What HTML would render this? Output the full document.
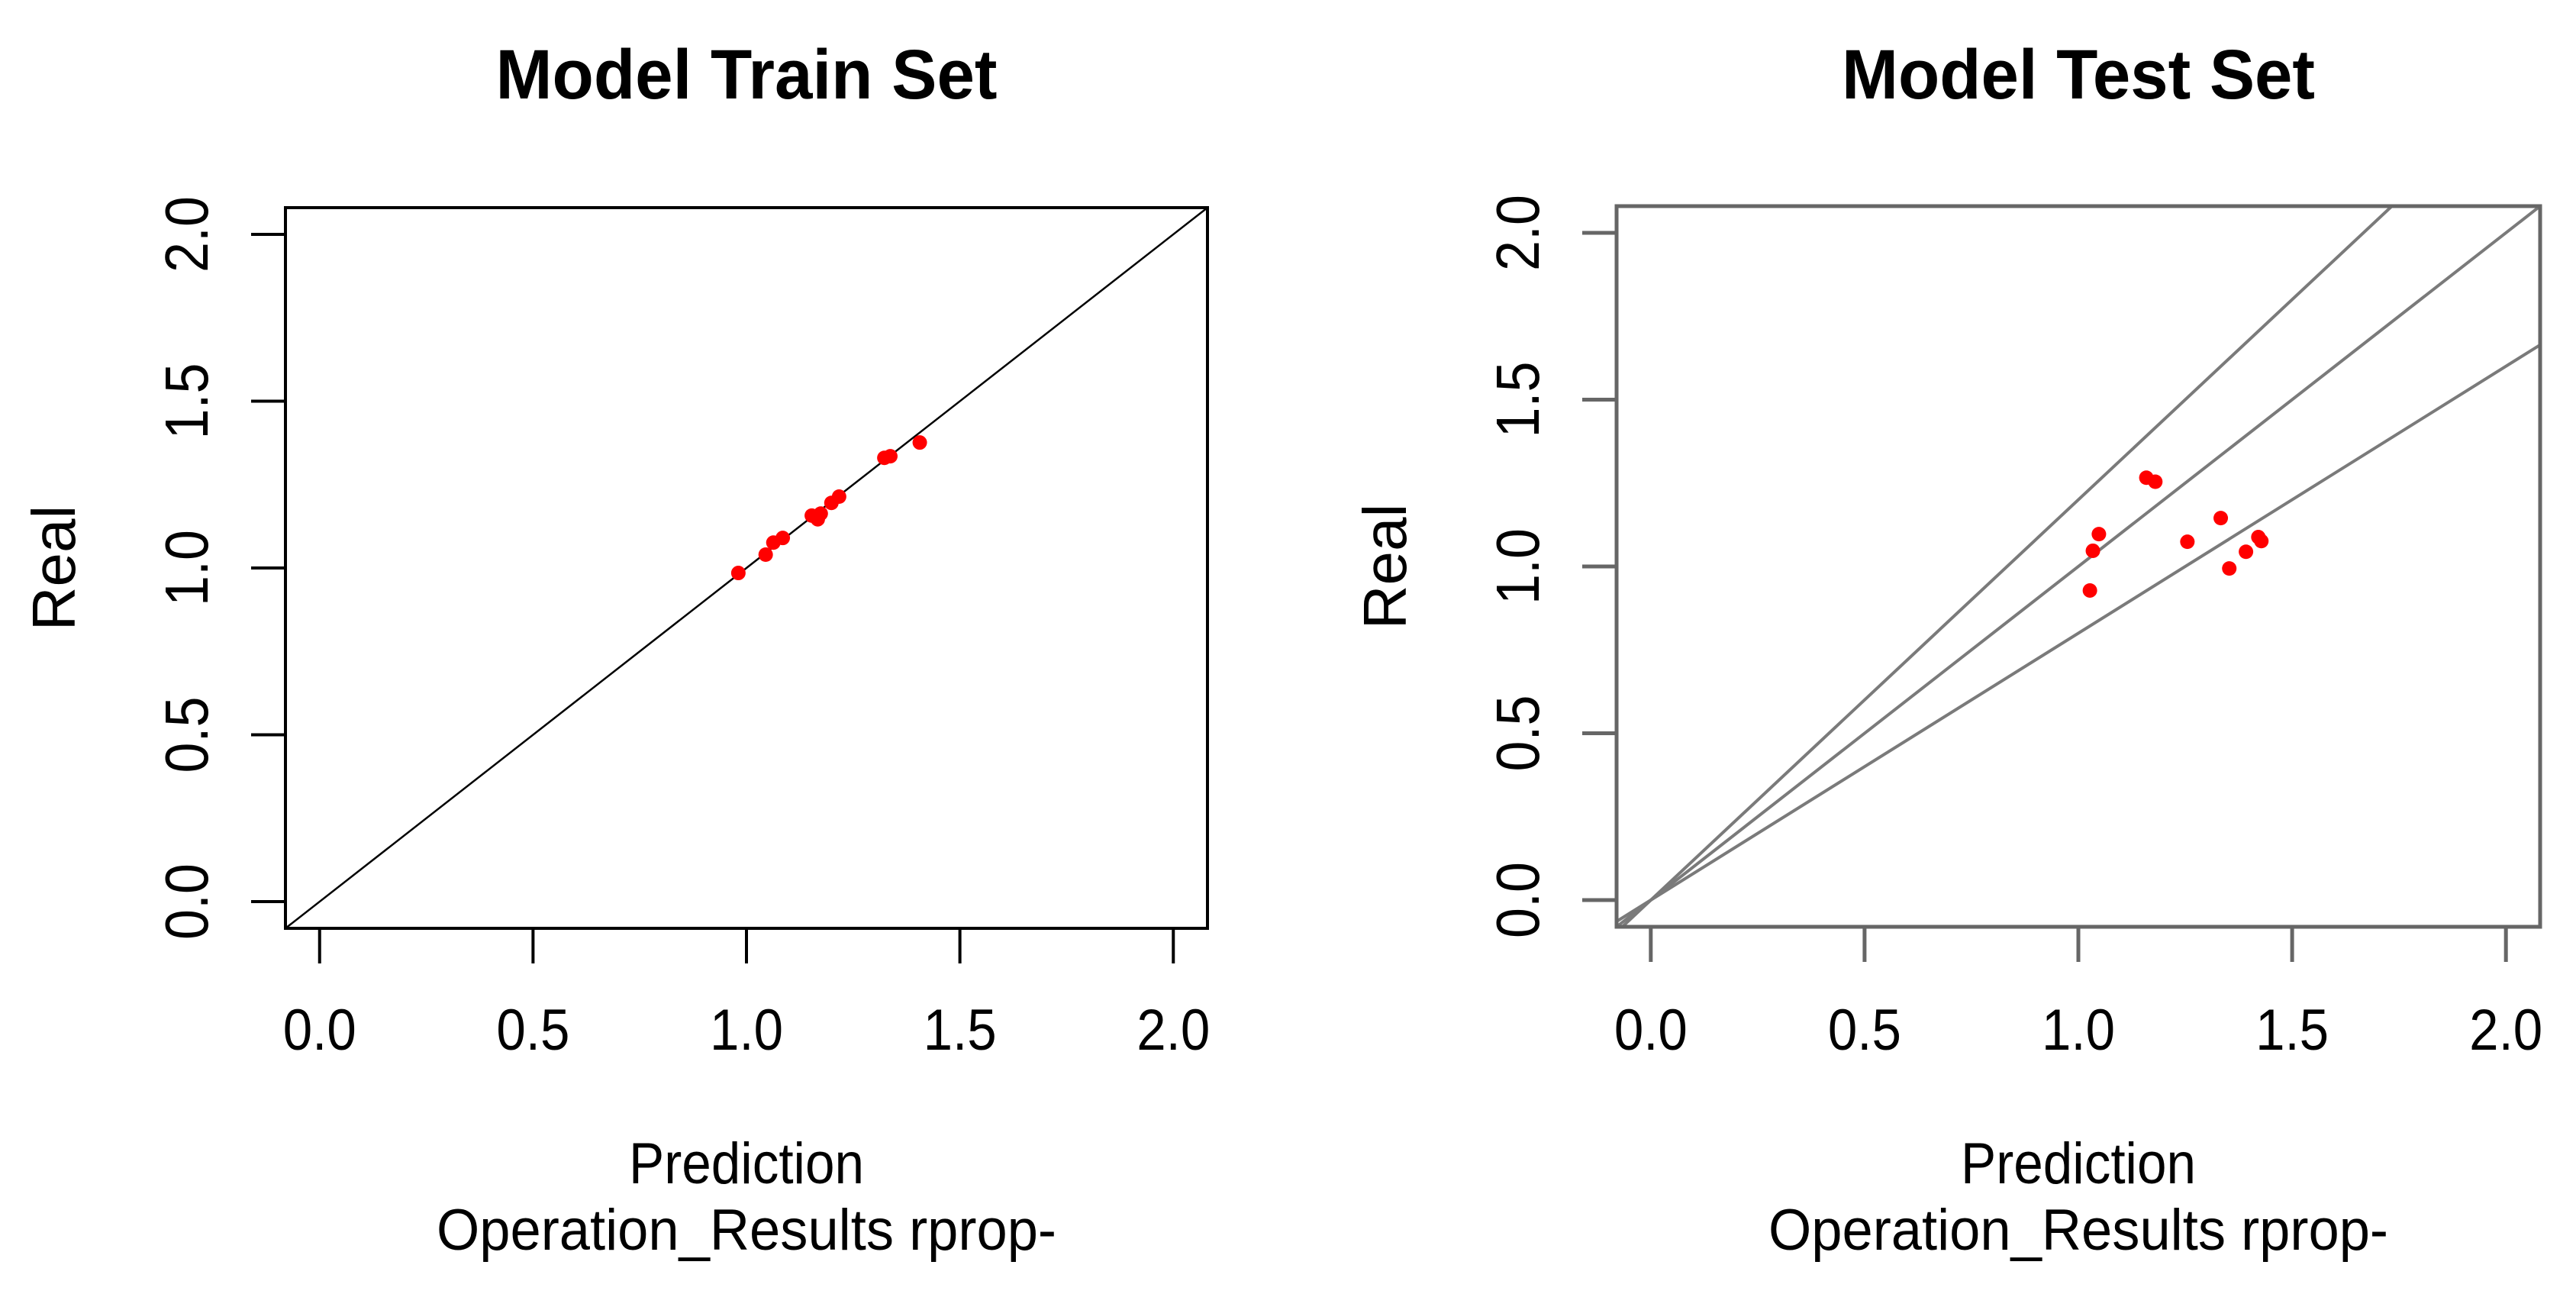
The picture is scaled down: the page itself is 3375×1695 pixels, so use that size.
<!DOCTYPE html>
<html><head><meta charset="utf-8"><style>
html,body{margin:0;padding:0;background:#fff;}
svg{display:block;font-family:"Liberation Sans",Arial,sans-serif;}
</style></head><body>
<svg id="chart" width="3375" height="1695" viewBox="0 0 3375 1695" xmlns="http://www.w3.org/2000/svg"></svg>
<script>
const tickValues = [0, 0.5, 1, 1.5, 2];
const tickLabels = ["0.0", "0.5", "1.0", "1.5", "2.0"];
const trainPred = [0.981, 1.045, 1.063, 1.085, 1.153, 1.167, 1.174, 1.199, 1.217, 1.323, 1.337, 1.406];
const trainReal = [0.985, 1.040, 1.076, 1.090, 1.157, 1.146, 1.163, 1.195, 1.214, 1.330, 1.335, 1.376];
const testPred = [1.159, 1.180, 1.048, 1.034, 1.027, 1.255, 1.333, 1.392, 1.353, 1.421, 1.428];
const testReal = [1.266, 1.254, 1.097, 1.047, 0.928, 1.074, 1.145, 1.044, 0.994, 1.088, 1.076];
const trainSlopes = [1];
const testSlopes = [1.2, 1, 0.8];
const dMin = -0.08, dMax = 2.08;

const svg = document.getElementById('chart');
const NS = 'http://www.w3.org/2000/svg';
function mk(tag, attrs, parent) {
  const e = document.createElementNS(NS, tag);
  for (const k in attrs) e.setAttribute(k, attrs[k]);
  (parent || svg).appendChild(e);
  return e;
}

function panel(cfg) {
  const g = mk('g', {});
  
  
  const L = cfg.left, R = cfg.right, T = cfg.top, B = cfg.bottom;
  const xs = v => L + (v - dMin) / (dMax - dMin) * (R - L);
  const ys = v => B - (v - dMin) / (dMax - dMin) * (B - T);
  const cx = (L + R) / 2, cy = (T + B) / 2;

  const title = mk('text', {x: cx, y: 129, 'text-anchor': 'middle', 'font-size': 92, 'font-weight': 'bold', fill: '#000', textLength: cfg.titleLen, lengthAdjust: 'spacingAndGlyphs'}, g);
  title.textContent = cfg.title;
  
  

  const clip = mk('clipPath', {id: cfg.name + '-clip'}, g);
  mk('rect', {x: L, y: T, width: R - L, height: B - T}, clip);
  const lg = mk('g', {'clip-path': 'url(#' + cfg.name + '-clip)'}, g);
  cfg.slopes.forEach((s, i) => {
    const ln = mk('line', {x1: xs(dMin), y1: ys(dMin * s), x2: xs(dMax), y2: ys(dMax * s), stroke: cfg.lineColor, 'stroke-width': cfg.lineW}, lg);
    
    
  });

  cfg.px.forEach((v, i) => {
    const c = mk('circle', {cx: xs(v), cy: ys(cfg.py[i]), r: 9.5, fill: '#ff0000'}, g);
    
    
  });

  const box = mk('rect', {x: L, y: T, width: R - L, height: B - T, fill: 'none', stroke: cfg.axisColor, 'stroke-width': cfg.boxW}, g);
  
  

  tickValues.forEach((v, i) => {
    const x = xs(v);
    const t = mk('line', {x1: x, y1: B, x2: x, y2: B + 46, stroke: cfg.axisColor, 'stroke-width': cfg.boxW}, g);
    
    
    const lb = mk('text', {x: x, y: 1375, 'text-anchor': 'middle', 'font-size': 76, fill: '#000', textLength: 96, lengthAdjust: 'spacingAndGlyphs'}, g);
    lb.textContent = tickLabels[i];
    
    
  });
  tickValues.forEach((v, i) => {
    const y = ys(v);
    const t = mk('line', {x1: L, y1: y, x2: L - 45, y2: y, stroke: cfg.axisColor, 'stroke-width': cfg.boxW}, g);
    
    
    const lx = L - 102;
    const lb = mk('text', {x: lx, y: y, 'text-anchor': 'middle', 'font-size': 80, fill: '#000', transform: 'rotate(-90 ' + lx + ' ' + y + ')', textLength: 100, lengthAdjust: 'spacingAndGlyphs'}, g);
    lb.textContent = tickLabels[i];
    
    
  });

  const xt = mk('text', {x: cx, y: 1550, 'text-anchor': 'middle', 'font-size': 76, fill: '#000', textLength: 308, lengthAdjust: 'spacingAndGlyphs'}, g);
  xt.textContent = 'Prediction';
  
  
  const st = mk('text', {x: cx, y: 1637, 'text-anchor': 'middle', 'font-size': 76, fill: '#000', textLength: 812, lengthAdjust: 'spacingAndGlyphs'}, g);
  st.textContent = 'Operation_Results rprop-';
  
  
  const ry = L - 276;
  const yt = mk('text', {x: ry, y: cy, 'text-anchor': 'middle', 'font-size': 80, fill: '#000', transform: 'rotate(-90 ' + ry + ' ' + cy + ')'}, g);
  yt.textContent = 'Real';
  
  
}

panel({name: 'train-panel', title: 'Model Train Set', titleLen: 657, left: 374, right: 1582, top: 272, bottom: 1216,
  slopes: trainSlopes, px: trainPred, py: trainReal, lineColor: '#000', lineW: 2.5, axisColor: '#000', boxW: 4});
panel({name: 'test-panel', title: 'Model Test Set', titleLen: 620, left: 2118, right: 3328, top: 270, bottom: 1214,
  slopes: testSlopes, px: testPred, py: testReal, lineColor: '#7a7a7a', lineW: 4, axisColor: '#666', boxW: 5});
</script>
</body></html>
